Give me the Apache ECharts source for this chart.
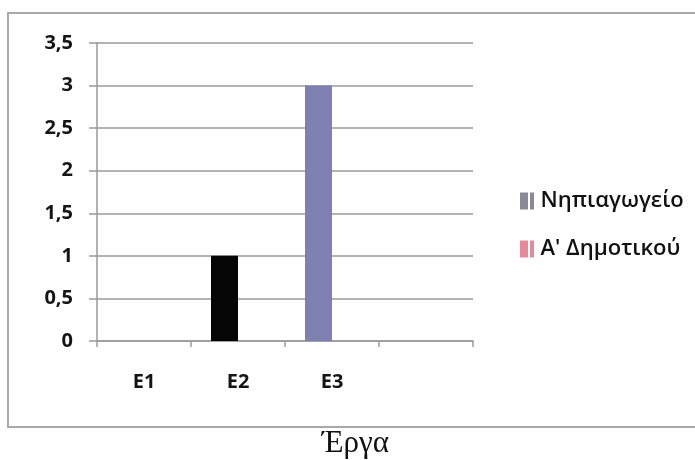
<!DOCTYPE html>
<html>
<head>
<meta charset="utf-8">
<script src="https://cdn.jsdelivr.net/npm/echarts@6/dist/echarts.min.js"></script>
<style>
  html, body { margin: 0; padding: 0; background: #ffffff; }
  #chart { width: 695px; height: 460px; }
</style>
</head>
<body>
<div id="chart"></div>
<script>
// Projects on the x axis (last slot is left empty)
const categories = ['E1', 'E2', 'E3', ''];
// Counts per school level
const kindergarten = [0, 1, 3, 0];   // Νηπιαγωγείο
const firstGrade = [0, 0, 0, 0];     // Α' Δημοτικού
const yTicks = [0, 0.5, 1, 1.5, 2, 2.5, 3, 3.5];

const seriesNames = ['Νηπιαγωγείο', "Α' Δημοτικού"];
const axisTitle = 'Έργα';

const chart = echarts.init(document.getElementById('chart'), null, { renderer: 'canvas' });

const labelFont = '"Open Sans", "Noto Sans", sans-serif';
const markerPath = 'path://M0,0h8v17h-8z M10,0h4v17h-4z';

chart.setOption({
  animation: false,
  backgroundColor: '#ffffff',
  grid: { left: 97, right: 222, top: 43, bottom: 119 },
  legend: {
    orient: 'vertical',
    left: 515,
    top: 185,
    itemGap: 26,
    itemWidth: 15,
    itemHeight: 17,
    textStyle: { fontFamily: labelFont, fontSize: 22, fontWeight: 600, color: '#111111', padding: [0, 0, 0, 1] },
    data: [
      { name: seriesNames[0], icon: markerPath, itemStyle: { color: '#8a8a96' } },
      { name: seriesNames[1], icon: markerPath, itemStyle: { color: '#e58a9c' } }
    ]
  },
  xAxis: {
    type: 'category',
    data: categories,
    axisLine: { lineStyle: { color: '#9a9a9a', width: 1.5 } },
    axisTick: { show: true, length: 6, lineStyle: { color: '#9a9a9a', width: 1.5 } },
    axisLabel: { margin: 31, fontFamily: labelFont, fontSize: 20, fontWeight: 'bold', color: '#151515' },
    splitLine: { show: false }
  },
  yAxis: {
    type: 'value',
    min: yTicks[0],
    max: yTicks[yTicks.length - 1],
    interval: 0.5,
    axisLine: { show: true, lineStyle: { color: '#9a9a9a', width: 1.5 } },
    axisTick: { show: true, length: 8, lineStyle: { color: '#9a9a9a', width: 1.5 } },
    axisLabel: {
      margin: 24,
      fontFamily: labelFont,
      fontSize: 20,
      fontWeight: 'bold',
      color: '#151515',
      formatter: v => String(v).replace('.', ',')
    },
    splitLine: { show: true, lineStyle: { color: '#9a9a9a', width: 1.5 } }
  },
  series: [
    {
      name: seriesNames[0],
      type: 'bar',
      barWidth: 27,
      barGap: '0%',
      itemStyle: { color: '#7f80b2' },
      data: kindergarten.map((v, i) => i === 1 ? { value: v, itemStyle: { color: '#050505' } } : v)
    },
    {
      name: seriesNames[1],
      type: 'bar',
      barWidth: 27,
      barGap: '0%',
      itemStyle: { color: '#e58a9c' },
      data: firstGrade
    }
  ],
  graphic: [
    {
      type: 'rect',
      shape: { x: 8, y: 13, width: 700, height: 414 },
      style: { fill: 'none', stroke: '#a8a8a8', lineWidth: 2 },
      silent: true
    },
    {
      type: 'text',
      left: 322,
      top: 428,
      style: {
        text: axisTitle,
        font: '31px "Liberation Serif", "DejaVu Serif", serif',
        fill: '#111111'
      }
    }
  ]
});
</script>
</body>
</html>
